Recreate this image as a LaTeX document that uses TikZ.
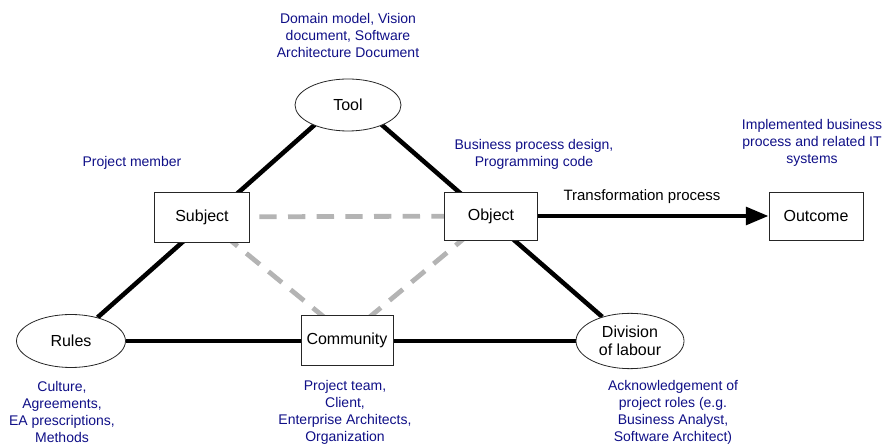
\documentclass[tikz,border=0pt]{standalone}
\usepackage{fontspec}
\setmainfont{Liberation Sans}
\usetikzlibrary{shapes.geometric,arrows.meta,backgrounds}
\definecolor{notecol}{RGB}{15,15,135}
\definecolor{dashgray}{RGB}{180,180,180}
\begin{document}
\begin{tikzpicture}[x=0.75pt,y=-0.75pt,
  boxnode/.style={draw=black!85,line width=0.6pt,fill=white,rectangle,inner sep=0pt,
    font=\fontsize{12}{13.5}\selectfont,align=center},
  ellnode/.style={draw=black!85,line width=0.6pt,fill=white,ellipse,inner sep=0pt,
    font=\fontsize{12}{13.5}\selectfont,align=center},
  note/.style={text=notecol,font=\fontsize{10.5}{12.75}\selectfont,align=center,inner sep=0pt},
  thickline/.style={line width=3.4pt,black},
  grayline/.style={line width=3.6pt,dashgray,dash pattern=on 13pt off 8.5pt}]
\useasboundingbox (0,0) rectangle (885,448);
% nodes
\node[ellnode,minimum width=79.5pt,minimum height=39pt] (tool) at (348,105) {Tool};
\node[boxnode,minimum width=71.25pt,minimum height=37.5pt] (subject) at (202,217) {Subject};
\node[boxnode,minimum width=69.75pt,minimum height=36pt] (object) at (491,216) {Object};
\node[boxnode,minimum width=70.5pt,minimum height=36pt] (outcome) at (816,216) {Outcome};
\node[ellnode,minimum width=81.75pt,minimum height=39.75pt] (rules) at (71,341) {Rules};
\node[boxnode,minimum width=69pt,minimum height=37.5pt] (community) at (347,340) {Community};
\node[ellnode,minimum width=81pt,minimum height=41.5pt] (division) at (630,341) {Division\\of labour};
% connectors behind nodes
\begin{scope}[on background layer]
  \draw[grayline] (subject.center) -- (object.center);
  \draw[grayline] (subject.center) -- ([xshift=3.75pt]community.center);
  \draw[grayline] (object.center) -- ([xshift=-3.75pt]community.center);
  \draw[thickline] (rules) -- ([xshift=-8.25pt]tool.center);
  \draw[thickline] (division) -- ([xshift=8.25pt]tool.center);
  \draw[thickline] (rules) -- (division);
\end{scope}
\draw[thickline,-{Triangle[length=17pt,width=13pt]}] (object) -- (outcome);
\node[font=\fontsize{11.25}{13.5}\selectfont,inner sep=0pt] (tp) at (642,197) {Transformation process};
% notes
\node[note] (n1) at (348,36) {Domain model, Vision\\document, Software\\Architecture Document};
\node[note] (n2) at (132,163) {Project member};
\node[note] (n3) at (534,154) {Business process design,\\Programming code};
\node[note] (n4) at (812,143) {Implemented business\\process and related IT\\systems};
\node[note] (n5) at (62,412) {Culture,\\Agreements,\\EA prescriptions,\\Methods};
\node[note] (n6) at (345,412) {Project team,\\Client,\\Enterprise Architects,\\Organization};
\node[note] (n7) at (673,412) {Acknowledgement of\\project roles (e.g.\\Business Analyst,\\Software Architect)};
\end{tikzpicture}
\end{document}
